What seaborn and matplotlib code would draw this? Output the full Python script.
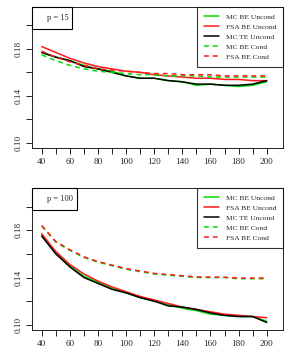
"""Two-panel comparison of estimator error curves (p = 15 and p = 100)."""
import numpy as np
import pandas as pd
import matplotlib
matplotlib.use('Agg')
import matplotlib.pyplot as plt
from matplotlib.lines import Line2D
from matplotlib.patches import Rectangle
import seaborn as sns

# sample sizes
n_vals = [40, 50, 60, 70, 80, 90, 100, 110, 120, 130, 140, 150, 160, 170, 180, 190, 200]

# p = 15
p15_mc_be_uncond = [0.177, 0.173, 0.170, 0.166, 0.163, 0.161, 0.157, 0.155, 0.155, 0.153, 0.152,
                    0.149, 0.150, 0.149, 0.148, 0.149, 0.152]
p15_fsa_be_uncond = [0.182, 0.177, 0.172, 0.168, 0.165, 0.163, 0.161, 0.160, 0.158, 0.157, 0.156,
                     0.155, 0.155, 0.154, 0.154, 0.153, 0.153]
p15_mc_te_uncond = [0.177, 0.173, 0.170, 0.165, 0.163, 0.160, 0.157, 0.155, 0.155, 0.153, 0.152,
                    0.150, 0.150, 0.149, 0.149, 0.150, 0.153]
p15_mc_be_cond = [0.175, 0.170, 0.166, 0.163, 0.161, 0.160, 0.159, 0.158, 0.158, 0.157, 0.157,
                  0.157, 0.156, 0.156, 0.156, 0.156, 0.156]
p15_fsa_be_cond = [0.178, 0.173, 0.169, 0.166, 0.163, 0.162, 0.161, 0.160, 0.159, 0.159, 0.158,
                   0.158, 0.158, 0.157, 0.157, 0.157, 0.157]

# p = 100
p100_mc_be_uncond = [0.176, 0.161, 0.150, 0.141, 0.136, 0.131, 0.127, 0.123, 0.120, 0.117, 0.114,
                     0.112, 0.109, 0.108, 0.107, 0.107, 0.103]
p100_fsa_be_uncond = [0.177, 0.162, 0.151, 0.143, 0.137, 0.132, 0.128, 0.124, 0.121, 0.118, 0.115,
                      0.113, 0.111, 0.109, 0.108, 0.107, 0.106]
p100_mc_te_uncond = [0.175, 0.160, 0.149, 0.140, 0.135, 0.130, 0.127, 0.123, 0.120, 0.116, 0.115,
                     0.113, 0.110, 0.108, 0.107, 0.107, 0.102]
p100_mc_be_cond = [0.1835, 0.170, 0.163, 0.157, 0.153, 0.150, 0.147, 0.145, 0.143, 0.142, 0.141,
                   0.140, 0.140, 0.140, 0.139, 0.139, 0.139]
p100_fsa_be_cond = [0.184, 0.1705, 0.1635, 0.1575, 0.1535, 0.1505, 0.1475, 0.1455, 0.1435, 0.1425,
                    0.1415, 0.1405, 0.1403, 0.1402, 0.1395, 0.1395, 0.1395]

series_names = ['MC BE Uncond', 'FSA BE Uncond', 'MC TE Uncond', 'MC BE Cond', 'FSA BE Cond']
GREEN = '#00dd00'
RED = '#ff1a1a'
colors = [GREEN, RED, 'black', GREEN, RED]
dashed = [False, False, False, True, True]
DASH = (3.2, 2.6)

panels = {
    'p = 15': [p15_mc_be_uncond, p15_fsa_be_uncond, p15_mc_te_uncond, p15_mc_be_cond, p15_fsa_be_cond],
    'p = 100': [p100_mc_be_uncond, p100_fsa_be_uncond, p100_mc_te_uncond, p100_mc_be_cond, p100_fsa_be_cond],
}

sns.set_style('white')
plt.rcParams['font.family'] = ['Liberation Serif', 'DejaVu Serif']

fig = plt.figure(figsize=(2.92, 3.62), dpi=100)
W, H = 292, 362
axes_px = [(32, 7, 283, 148), (32, 188, 283, 330)]
label_box_w = {'p = 15': 40, 'p = 100': 45}

for (label, data), (x0, y0, x1, y1) in zip(panels.items(), axes_px):
    ax = fig.add_axes([x0 / W, 1 - y1 / H, (x1 - x0) / W, (y1 - y0) / H])
    for name, vals, col, dsh in zip(series_names, data, colors, dashed):
        df = pd.DataFrame({'n': n_vals, 'err': vals})
        sns.lineplot(data=df, x='n', y='err', ax=ax, color=col, lw=1.1)
        if dsh:
            ax.lines[-1].set_dashes(DASH)

    ax.set_xlim(33.1, 211.6)
    ax.set_ylim(0.0956, 0.2157)
    ax.set_xlabel('')
    ax.set_ylabel('')

    ax.set_xticks(np.arange(40, 201, 10))
    ax.set_xticklabels([str(v) if v % 20 == 0 else '' for v in range(40, 201, 10)], fontsize=6.6)
    yt = [0.10, 0.12, 0.14, 0.16, 0.18, 0.20]
    ax.set_yticks(yt)
    ax.set_yticklabels(['0.10', '', '0.14', '', '0.18', ''], fontsize=6.6,
                       rotation=90, va='center')
    ax.tick_params(axis='both', direction='out', length=4.5, width=0.6, color='black',
                   left=True, bottom=True, pad=2.5)
    for s in ax.spines.values():
        s.set_visible(True)
        s.set_color('black')
        s.set_linewidth(0.6)

    # panel label box in the top-left corner
    bw = label_box_w[label] / (x1 - x0)
    bh = 22 / (y1 - y0)
    ax.add_patch(Rectangle((0, 1 - bh), bw, bh, transform=ax.transAxes, fill=False,
                           edgecolor='black', lw=0.8, clip_on=False, zorder=5))
    ax.text(14.7 / (x1 - x0), 1 - bh / 2, label, transform=ax.transAxes, fontsize=6,
            ha='left', va='center')

    handles = [Line2D([0], [0], color=c, lw=1.1, linestyle=(0, DASH) if d else '-')
               for c, d in zip(colors, dashed)]
    leg = ax.legend(handles, series_names, loc='upper right', fontsize=5.4, frameon=True,
                    fancybox=False, edgecolor='black', borderaxespad=0, handlelength=2.0,
                    handletextpad=0.9, labelspacing=0.5, borderpad=0.9)
    leg.get_frame().set_linewidth(0.8)

fig.savefig('out.png', dpi=100)
